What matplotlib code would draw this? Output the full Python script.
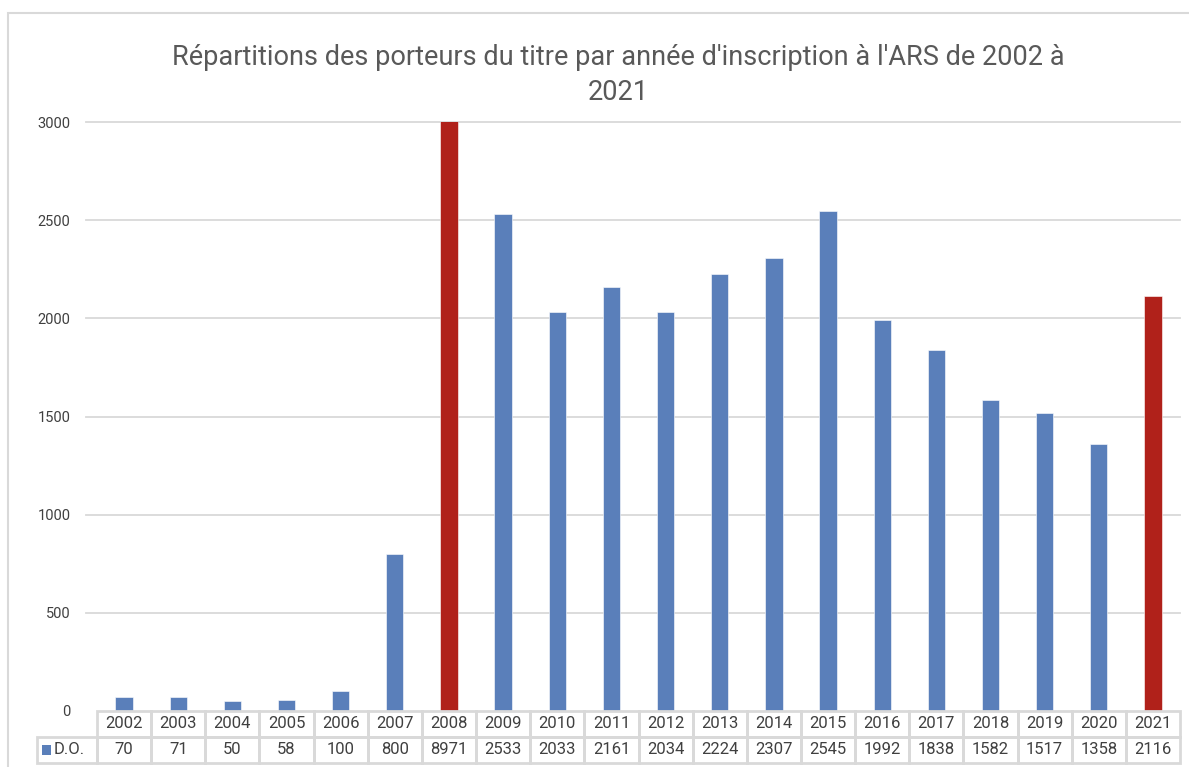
import numpy as np
import matplotlib.pyplot as plt
from matplotlib.patches import Rectangle

plt.rcParams['font.family'] = ['Roboto', 'DejaVu Sans']

# data
years = ['2002', '2003', '2004', '2005', '2006', '2007', '2008', '2009', '2010', '2011',
         '2012', '2013', '2014', '2015', '2016', '2017', '2018', '2019', '2020', '2021']
values = [70, 71, 50, 58, 100, 800, 8971, 2533, 2033, 2161,
          2034, 2224, 2307, 2545, 1992, 1838, 1582, 1517, 1358, 2116]
highlight = ['2008', '2021']
series_name = 'D.O.'
title = "Répartitions des porteurs du titre par année d'inscription à l'ARS de 2002 à\n2021"

blue = '#5A7FBA'
red = '#B0211A'
grid_c = '#D9D9D9'
txt_c = '#404040'

W, H = 1189, 767
fig = plt.figure(figsize=(W / 100, H / 100), dpi=100)

def px_box(x0, y0, x1, y1):
    return [x0 / W, 1 - y1 / H, (x1 - x0) / W, (y1 - y0) / H]

# outer chart border
fig.patches.append(Rectangle((8 / W, -0.1), 1.2, 1 - 13 / H + 0.1, transform=fig.transFigure,
                             fill=False, edgecolor=grid_c, lw=1.5))

ax_l, ax_r, ax_t, ax_b = 97, 1180, 122, 711
ax = fig.add_axes(px_box(ax_l, ax_t, ax_r, ax_b))
x = np.arange(len(years))
colors = [red if y in highlight else blue for y in years]
ax.bar(x, values, width=0.32, color=colors, edgecolor='white', linewidth=0.4, zorder=3)
ax.set_xlim(-0.5, len(years) - 0.5)
ax.set_ylim(0, 3000)
ax.set_yticks(np.arange(0, 3001, 500))
ax.tick_params(axis='y', length=0, labelsize=10.5, labelcolor=txt_c, pad=19)
ax.set_xticks([])
for s in ax.spines.values():
    s.set_visible(False)
ext = 11 / (ax_r - ax_l)
for v in np.arange(500, 3001, 500):
    ax.axhline(v, xmin=-ext, xmax=1, color=grid_c, lw=1.3, clip_on=False, zorder=1)

fig.text(618 / W, 1 - 75 / H, title, ha='center', va='center', fontsize=19.5,
         color='#595959', linespacing=1.35, multialignment='center')

# data table under the axis
col_w = (ax_r - ax_l) / len(years)
lab_w = (ax_l - 37) / col_w
tab = fig.add_axes(px_box(37, 711, ax_r, 763))
tab.set_xlim(-0.5 - lab_w, len(years) - 0.5)
tab.set_ylim(2, 0)
tab.axis('off')
for i, (yr, v) in enumerate(zip(years, values)):
    for r, t in enumerate([yr, str(v)]):
        tab.add_patch(Rectangle((i - 0.5, r), 1, 1, fill=False, edgecolor=grid_c, lw=2, clip_on=False))
        tab.text(i, r + 0.5, t, ha='center', va='center', fontsize=12, color=txt_c)
tab.add_patch(Rectangle((-0.5 - lab_w, 1), lab_w, 1, fill=False, edgecolor=grid_c, lw=2, clip_on=False))
tab.add_patch(Rectangle((-0.5 - lab_w + 0.1, 1.32), 0.15, 0.36, color=blue, lw=0, clip_on=False))
tab.text(-0.5 - lab_w + 0.3, 1.5, series_name, ha='left', va='center', fontsize=12, color=txt_c)

fig.savefig('out.png', dpi=100)
